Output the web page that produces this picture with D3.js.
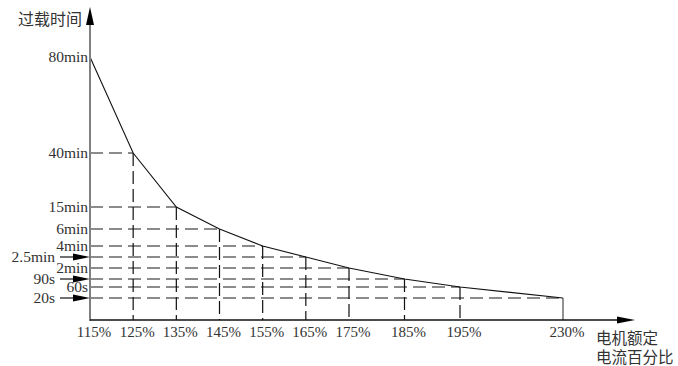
<!DOCTYPE html>
<html>
<head>
<meta charset="utf-8">
<script src="https://cdn.jsdelivr.net/npm/d3@7"></script>
<style>
  body { margin: 0; background: #fff; }
  text { font-family: "Liberation Serif", "DejaVu Serif", serif; fill: #333; }
  .cjk { font-family: "Noto Sans CJK SC", sans-serif; }
</style>
</head>
<body>
<svg id="chart" width="678" height="366"></svg>
<script>
// overload current (% of rated) and allowed time (seconds)
const currentPct = [115, 125, 135, 145, 155, 165, 175, 185, 195, 230];
const xLabels = ['115%', '125%', '135%', '145%', '155%', '165%', '175%', '185%', '195%', '230%'];
const timeSec = [4800, 2400, 900, 360, 240, 150, 120, 90, 60, 20];
const yLabels = ['80min', '40min', '15min', '6min', '4min', '2.5min', '2min', '90s', '60s', '20s'];
const arrowLabels = ['2.5min', '90s', '20s'];

const svg = d3.select('#chart');
const x0 = 90, y0 = 320;

// schematic axes: piecewise scales
const x = d3.scaleLinear()
    .domain([115, 175, 195, 230])
    .range([x0, 349, 460, 563]);
const y = d3.scaleLog()
    .domain([20, 60, 90, 120, 150, 240, 360, 900, 2400, 4800])
    .range([298, 287, 279, 268, 257, 246, 229, 207, 153, 57]);

const pts = currentPct.map((c, i) => ({c: c, t: timeSec[i], yl: yLabels[i], xl: xLabels[i]}));

// horizontal dashed guides
svg.selectAll('.hdash')
    .data(pts.slice(1))
    .enter().append('line')
    .attr('x1', x0).attr('x2', d => x(d.c))
    .attr('y1', d => y(d.t)).attr('y2', d => y(d.t))
    .attr('stroke', '#666').attr('stroke-width', 1.6)
    .attr('stroke-dasharray', '13,6');

// vertical guides
svg.selectAll('.vdash')
    .data(pts.slice(1))
    .enter().append('line')
    .attr('x1', d => x(d.c)).attr('x2', d => x(d.c))
    .attr('y1', d => y(d.t)).attr('y2', y0)
    .attr('stroke', (d, i) => i === pts.length - 2 ? '#777' : '#111')
    .attr('stroke-width', (d, i) => i === pts.length - 2 ? 1.6 : 1.2)
    .attr('stroke-dasharray', (d, i) => i === pts.length - 2 ? null : '13,5');

// curve
const line = d3.line().x(d => x(d.c)).y(d => y(d.t));
svg.append('path')
    .datum(pts)
    .attr('d', line)
    .attr('fill', 'none')
    .attr('stroke', '#111')
    .attr('stroke-width', 1.1);

// y axis
svg.append('line')
    .attr('x1', x0).attr('x2', x0).attr('y1', y0 + 1).attr('y2', 22)
    .attr('stroke', '#808080').attr('stroke-width', 2);
svg.append('path')
    .attr('d', `M${x0},7 L${x0 + 4},25 L${x0 - 4},25 Z`)
    .attr('fill', '#000');

// x axis
svg.append('line')
    .attr('x1', x0).attr('x2', 620).attr('y1', y0).attr('y2', y0)
    .attr('stroke', '#111').attr('stroke-width', 1.5);
svg.append('path')
    .attr('d', `M635,${y0} L617,${y0 - 3.5} L617,${y0 + 3.5} Z`)
    .attr('fill', '#000');

// y labels
svg.selectAll('.ylab')
    .data(pts)
    .enter().append('text')
    .attr('x', d => arrowLabels.includes(d.yl) ? 55 : 88)
    .attr('y', d => y(d.t))
    .attr('dy', '0.35em')
    .attr('text-anchor', 'end')
    .attr('font-size', 15.5)
    .text(d => d.yl);

// arrows pointing at the axis
const arrows = svg.selectAll('.arrow')
    .data(pts.filter(d => arrowLabels.includes(d.yl)))
    .enter().append('g');
arrows.append('line')
    .attr('x1', 60).attr('x2', 75)
    .attr('y1', d => y(d.t)).attr('y2', d => y(d.t))
    .attr('stroke', '#111').attr('stroke-width', 1.2);
arrows.append('path')
    .attr('d', d => `M${x0},${y(d.t)} L73,${y(d.t) - 3.5} L73,${y(d.t) + 3.5} Z`)
    .attr('fill', '#000');

// x labels
svg.selectAll('.xlab')
    .data(pts)
    .enter().append('text')
    .attr('x', d => x(d.c) + 4)
    .attr('y', 337)
    .attr('text-anchor', 'middle')
    .attr('font-size', 15)
    .text(d => d.xl);

// axis titles
svg.append('text').attr('class', 'cjk')
    .attr('x', 18).attr('y', 25)
    .attr('font-size', 16)
    .text('过载时间');
svg.append('text').attr('class', 'cjk')
    .attr('x', 596).attr('y', 344)
    .attr('font-size', 15.5)
    .text('电机额定');
svg.append('text').attr('class', 'cjk')
    .attr('x', 596).attr('y', 363)
    .attr('font-size', 15.5)
    .text('电流百分比');
</script>
</body>
</html>
